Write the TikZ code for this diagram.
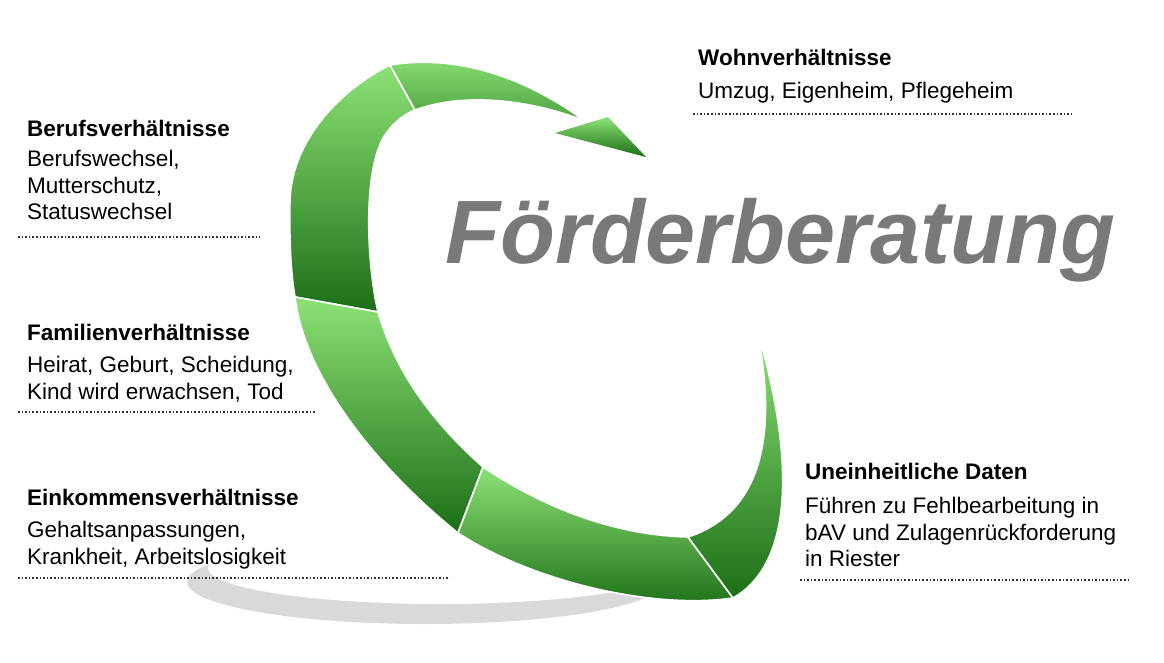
\documentclass[tikz,border=0pt]{standalone}
\usepackage{fontspec}
\setmainfont{Liberation Sans}
\begin{document}
\begin{tikzpicture}[x=1pt,y=-1pt,
  head/.style={font=\fontsize{22.5}{27}\selectfont\bfseries, anchor=west, inner sep=0},
  body/.style={font=\fontsize{22.5}{26.5}\selectfont, anchor=north west, align=left, inner sep=0},
  dots/.style={dotted, line width=1.6pt, black!80}]
\useasboundingbox (0,0) rectangle (1164,662);
% shadow
\fill[gray!30] (425,582) ellipse [x radius=238, y radius=42];
\fill[white] (440,568) ellipse [x radius=232, y radius=36];
% segments
\definecolor{lg}{RGB}{140,226,118}
\definecolor{dg}{RGB}{28,110,22}
\tikzset{seg/.style={top color=lg, bottom color=dg, draw=white, line width=1.6pt}}
\path[seg] (390,65) .. controls (340,90) and (292,140) .. (290,200) .. controls (289,250) and (292,280) .. (295,297)
  -- (378,312) .. controls (368,270) and (362,180) .. (382,140) .. controls (390,125) and (404,114) .. (415,110) -- cycle;
\path[seg] (295,297) .. controls (305,380) and (380,470) .. (458,533) -- (483,467)
  .. controls (430,420) and (395,370) .. (378,312) -- cycle;
\path[seg] (458,533) .. controls (530,580) and (650,610) .. (733,598) -- (688,537)
  .. controls (610,535) and (540,505) .. (483,467) -- cycle;
\path[seg] (733,598) .. controls (800,560) and (790,440) .. (757,330)
  .. controls (775,420) and (770,510) .. (688,537) -- cycle;
\path[seg,top color=lg, bottom color=lg!45!dg] (390,65) .. controls (470,52) and (540,88) .. (585,121)
  .. controls (540,103) and (470,90) .. (415,110) -- cycle;
\path[top color=lg, bottom color=dg] (555,133) -- (608,117) -- (646,157) -- cycle;
% title
\node[font=\fontsize{90}{100}\selectfont\bfseries\itshape, text=gray!95!black, anchor=west, inner sep=0] (title) at (445,240) {Förderberatung};
% labels
\node[head] (h1) at (27,128) {Berufsverhältnisse};
\node[body] (b1) at (27,150) {Berufswechsel,\\Mutterschutz,\\Statuswechsel};
\draw[dots] (18,237) coordinate (d1a) -- (260,237) coordinate (d1b);
\node[head] (h2) at (27,332) {Familienverhältnisse};
\node[body] (b2) at (27,356) {Heirat, Geburt, Scheidung,\\Kind wird erwachsen, Tod};
\draw[dots] (18,412) coordinate (d2a) -- (315,412) coordinate (d2b);
\node[head] (h3) at (27,497) {Einkommensverhältnisse};
\node[body] (b3) at (27,521) {Gehaltsanpassungen,\\Krankheit, Arbeitslosigkeit};
\draw[dots] (18,578) coordinate (d3a) -- (450,578) coordinate (d3b);
\node[head] (h4) at (698,57) {Wohnverhältnisse};
\node[body] (b4) at (698,82) {Umzug, Eigenheim, Pflegeheim};
\draw[dots] (693,114) coordinate (d4a) -- (1072,114) coordinate (d4b);
\node[head] (h5) at (805,471) {Uneinheitliche Daten};
\node[body] (b5) at (805,497) {Führen zu Fehlbearbeitung in\\bAV und Zulagenrückforderung\\in Riester};
\draw[dots] (800,580) coordinate (d5a) -- (1130,580) coordinate (d5b);
\end{tikzpicture}
\end{document}
